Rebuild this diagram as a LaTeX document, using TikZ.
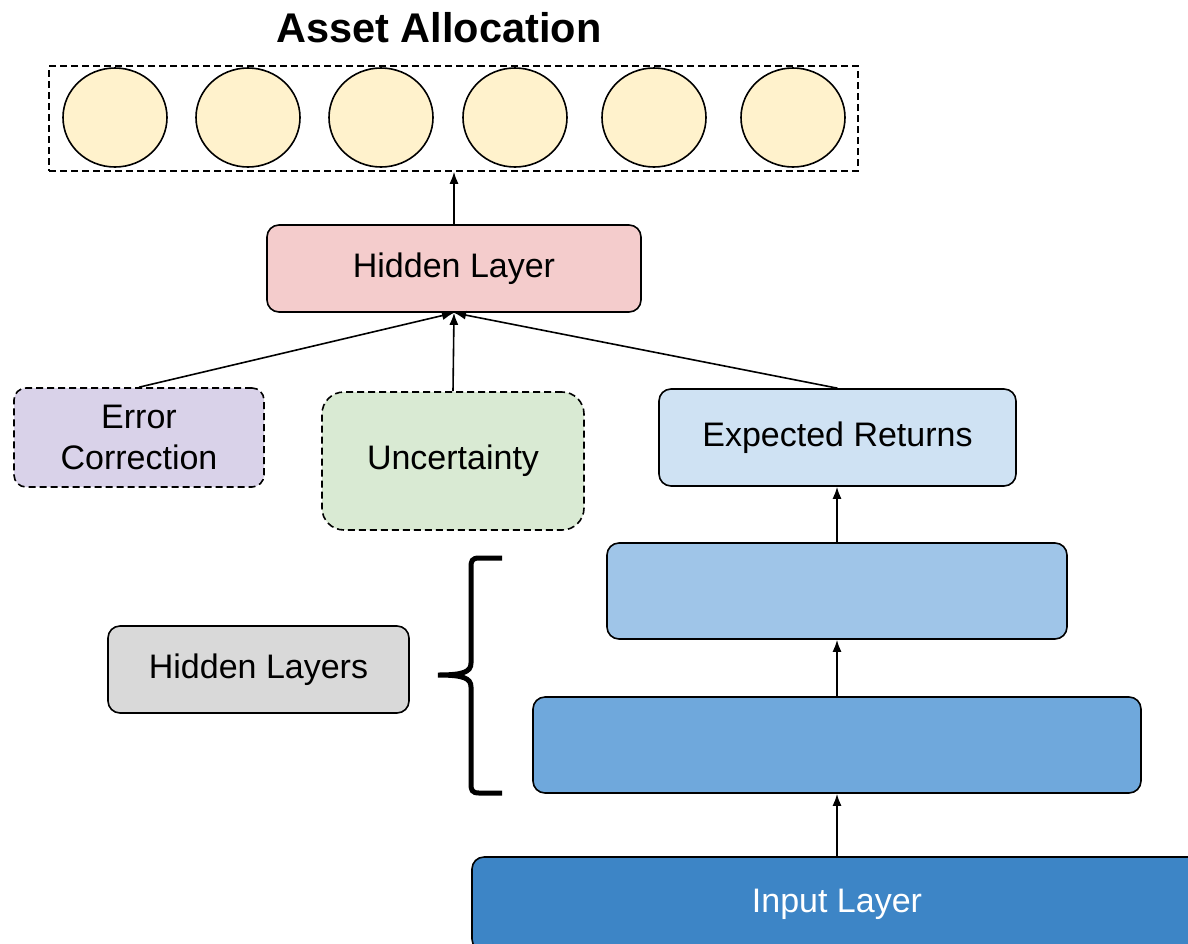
\documentclass[tikz,border=0pt]{standalone}
\usepackage{fontspec}
\setmainfont{Liberation Sans}
\usetikzlibrary{shapes.geometric,arrows.meta,calc}
\definecolor{cyel}{HTML}{FFF2CC}
\definecolor{cred}{HTML}{F4CCCC}
\definecolor{cpur}{HTML}{D9D2E9}
\definecolor{cgrn}{HTML}{D9EAD3}
\definecolor{cer}{HTML}{CFE2F3}
\definecolor{cbone}{HTML}{9FC5E8}
\definecolor{cbtwo}{HTML}{6FA8DC}
\definecolor{cbthree}{HTML}{3D85C6}
\definecolor{cgray}{HTML}{D9D9D9}
\begin{document}
\begin{tikzpicture}[x=1pt,y=-1pt,
  box/.style={draw=black, line width=1.6pt, rounded corners=12pt, inner sep=0pt, align=center, font=\fontsize{34}{41}\selectfont},
  dbox/.style={box, dash pattern=on 7pt off 4pt},
  circ/.style={ellipse, draw=black, line width=1.6pt, fill=cyel, minimum width=104pt, minimum height=99pt, inner sep=0pt},
  arr/.style={-{Latex[length=12pt,width=9pt]}, line width=1.6pt}]
\useasboundingbox (0,0) rectangle (1188,943);
\clip (0,0) rectangle (1188,943);
\fill[white] (0,0) rectangle (1188,943);

\node[font=\bfseries\fontsize{41.5}{48}\selectfont, inner sep=0pt] (title) at (439,28) {Asset Allocation};

\node[draw=black, line width=1.5pt, dash pattern=on 7pt off 4pt, minimum width=809pt, minimum height=105pt, inner sep=0pt] (grp) at (453.5,118.5) {};
\node[circ] (c1) at (115,117.5) {};
\node[circ] (c2) at (248,117.5) {};
\node[circ] (c3) at (381,117.5) {};
\node[circ] (c4) at (515,117.5) {};
\node[circ] (c5) at (654,117.5) {};
\node[circ] (c6) at (793,117.5) {};

\node[box, fill=cred, minimum width=374pt, minimum height=87pt] (hl) at (454,268.5) {Hidden Layer};
\node[dbox, fill=cpur, minimum width=250pt, minimum height=99pt] (ec) at (139,437.5) {Error\\Correction};
\node[dbox, fill=cgrn, minimum width=262pt, minimum height=138pt, rounded corners=22pt] (un) at (453,461) {Uncertainty};
\node[box, fill=cer, minimum width=357pt, minimum height=97pt] (er) at (837.5,437.5) {Expected Returns};
\node[box, fill=cbone, minimum width=460pt, minimum height=96pt] (h2) at (837,591) {};
\node[box, fill=cbtwo, minimum width=608pt, minimum height=96pt] (h1) at (837,745) {};
\node[box, fill=cbthree, minimum width=730pt, minimum height=94pt, text=white] (in) at (837,904) {Input Layer};
\node[box, fill=cgray, minimum width=301pt, minimum height=87pt] (hls) at (258.5,669.5) {Hidden Layers};

\draw[arr] (hl.north) -- (hl.north |- grp.south);
\draw[arr] (ec.north) -- (hl.south);
\draw[arr] (un.north) -- (hl.south);
\draw[arr] (er.north) -- (hl.south);
\draw[arr] (h2.north) -- (h2.north |- er.south);
\draw[arr] (h1.north) -- (h1.north |- h2.south);
\draw[arr] (in.north) -- (in.north |- h1.south);

\draw[line width=5pt] (502,558) -- (479,558) .. controls (472,558) and (471,561) .. (471,567) -- (471,663) .. controls (471,672) and (463,675) .. (438,675) .. controls (463,675) and (471,678) .. (471,687) -- (471,784) .. controls (471,790) and (472,793) .. (479,793) -- (502,793);
\end{tikzpicture}
\end{document}
